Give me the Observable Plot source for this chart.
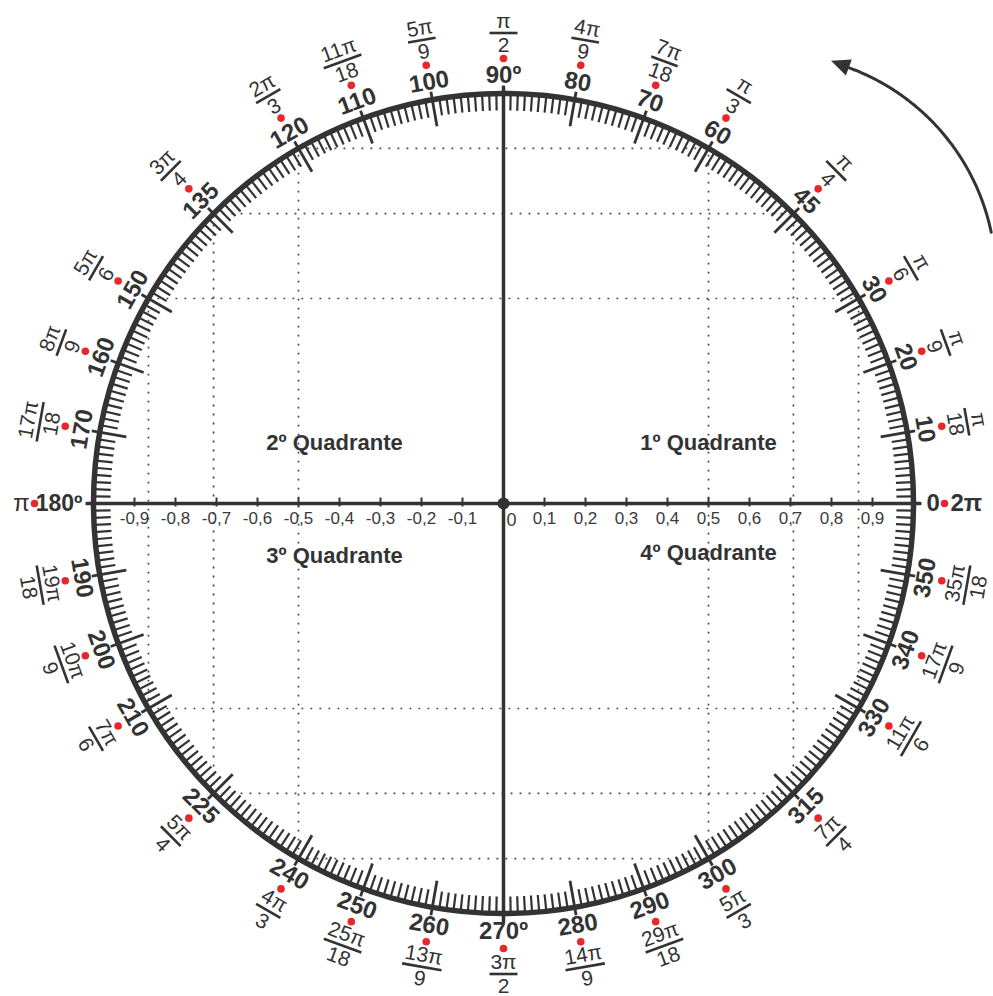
<!DOCTYPE html>
<html>
<head>
<meta charset="utf-8">
<script src="https://cdn.jsdelivr.net/npm/d3@7"></script>
<script src="https://cdn.jsdelivr.net/npm/@observablehq/plot@0.6"></script>
<style>
  html, body { margin: 0; padding: 0; background: #fff; }
  #chart svg { display: block; }
</style>
</head>
<body>
<div id="chart"></div>
<script>
// ---------- data ----------
const angles = [0,10,20,30,45,60,70,80,90,100,110,120,135,150,160,170,180,190,200,210,225,240,250,260,270,280,290,300,315,330,340,350];
const degreeLabels = ["0","10","20","30","45","60","70","80","90º","100","110","120","135","150","160","170","180º","190","200","210","225","240","250","260","270º","280","290","300","315","330","340","350"];
const radianNumerators = ["2π","π","π","π","π","π","7π","4π","π","5π","11π","2π","3π","5π","8π","17π","π","19π","10π","7π","5π","4π","25π","13π","3π","14π","29π","5π","7π","11π","17π","35π"];
const radianDenominators = ["","18","9","6","4","3","18","9","2","9","18","3","4","6","9","18","","18","9","6","4","3","18","9","2","9","18","3","4","6","9","18"];
const axisTickValues = [-0.9,-0.8,-0.7,-0.6,-0.5,-0.4,-0.3,-0.2,-0.1,0.1,0.2,0.3,0.4,0.5,0.6,0.7,0.8,0.9];
const axisTickLabels = ["-0,9","-0,8","-0,7","-0,6","-0,5","-0,4","-0,3","-0,2","-0,1","0,1","0,2","0,3","0,4","0,5","0,6","0,7","0,8","0,9"];
const originLabel = "0";
const gridValues = [0.5, 0.7071, 0.8660];
const quadrantLabels = ["1º Quadrante","2º Quadrante","3º Quadrante","4º Quadrante"];

// ---------- geometry helpers ----------
const K = 410;                     // pixels per unit
const W = 993, H = 996, C = 503;   // canvas and centre
const DARK = "#333333", RED = "#e8262b";
const FONT = "'Liberation Sans', Arial, Helvetica, sans-serif";
const toRad = a => a * Math.PI / 180;
const P = (a, px) => [px / K * Math.cos(toRad(a)), px / K * Math.sin(toRad(a))];
const side = a => (a < 180 ? 1 : -1);
const rot = a => (a < 180 ? 90 - a : 270 - a);

const labels = angles.map((a, i) => ({a, deg: degreeLabels[i], num: radianNumerators[i], den: radianDenominators[i]}));
const rotated = labels.filter(d => d.a !== 0 && d.a !== 180);
const fracs = labels.filter(d => d.den !== "");
const minorTicks = d3.range(0, 360).filter(a => !angles.includes(a));
const gridAll = gridValues.flatMap(v => [-v, v]);

const FR = 470.5, FOFF = 12;
const barHalf = d => Math.max(28, Math.max(d.num.length, d.den.length) * 12 + 4) / 2;

// arrow geometry (arc around its own centre)
const arrowC = [0.655, 0.550], arrowR = 0.546;
const arcPts = d3.range(11.8, 69.81, 0.5).map(t => [arrowC[0] + arrowR * Math.cos(toRad(t)), arrowC[1] + arrowR * Math.sin(toRad(t))]);
const endT = 69.8;
const baseC = [arrowC[0] + arrowR * Math.cos(toRad(endT)), arrowC[1] + arrowR * Math.sin(toRad(endT))];
const tang = [-Math.sin(toRad(endT)), Math.cos(toRad(endT))];
const norm = [Math.cos(toRad(endT)), Math.sin(toRad(endT))];
const tip = [baseC[0] + tang[0] * 19 / K, baseC[1] + tang[1] * 19 / K];
const c1 = [baseC[0] + norm[0] * 8.5 / K, baseC[1] + norm[1] * 8.5 / K];
const c2 = [baseC[0] - norm[0] * 8.5 / K, baseC[1] - norm[1] * 8.5 / K];
const headData = [{x1: tip[0], y1: tip[1], x2: tip[0], y2: tip[1]}, {x1: c1[0], y1: c1[1], x2: c2[0], y2: c2[1]}];

const chart = Plot.plot({
  width: W,
  height: H,
  margin: 0,
  x: {domain: [-C / K, (W - C) / K], axis: null},
  y: {domain: [-(H - C) / K, C / K], axis: null},
  style: {fontFamily: FONT, background: "#fff", color: DARK},
  marks: [
    // dotted grid (chords)
    Plot.link(gridAll, {x1: d => d, x2: d => d, y1: d => -Math.sqrt(1 - d * d), y2: d => Math.sqrt(1 - d * d),
      stroke: "#444", strokeWidth: 1.7, strokeDasharray: "1.8,7.2"}),
    Plot.link(gridAll, {y1: d => d, y2: d => d, x1: d => -Math.sqrt(1 - d * d), x2: d => Math.sqrt(1 - d * d),
      stroke: "#444", strokeWidth: 1.7, strokeDasharray: "1.8,7.2"}),
    // axes
    Plot.link([0], {x1: -417 / K, x2: 417 / K, y1: 0, y2: 0, stroke: DARK, strokeWidth: 3.5}),
    Plot.link([0], {x1: 0, x2: 0, y1: -419 / K, y2: 417 / K, stroke: DARK, strokeWidth: 3.5}),
    // axis ticks and labels
    Plot.link(axisTickValues, {x1: d => d, x2: d => d, y1: -3 / K, y2: 6 / K, stroke: DARK, strokeWidth: 2}),
    Plot.text(axisTickLabels, {x: (d, i) => axisTickValues[i], y: -15 / K, text: d => d,
      fontSize: 17, fill: "#3a3a3a", textAnchor: "middle", lineAnchor: "middle"}),
    Plot.text([originLabel], {x: 3 / K, y: -17 / K, text: d => d, fontSize: 18, fill: "#3a3a3a", textAnchor: "start", lineAnchor: "middle"}),
    // origin dot
    Plot.dot([[0, 0]], {r: 6, fill: DARK}),
    // scale ticks
    Plot.link(minorTicks, {x1: d => P(d, 410)[0], y1: d => P(d, 410)[1], x2: d => P(d, 393)[0], y2: d => P(d, 393)[1],
      stroke: DARK, strokeWidth: 2.2}),
    Plot.link(angles, {x1: d => P(d, 418)[0], y1: d => P(d, 418)[1], x2: d => P(d, 383)[0], y2: d => P(d, 383)[1],
      stroke: DARK, strokeWidth: 2.8}),
    // circle
    Plot.dot([[0, 0]], {r: 410, fill: "none", stroke: DARK, strokeWidth: 5.5}),
    // degree labels
    Plot.text(rotated, {x: d => P(d.a, 428)[0], y: d => P(d.a, 428)[1], text: "deg", rotate: d => rot(d.a),
      fontSize: 24, fontWeight: "bold", fill: DARK, textAnchor: "middle", lineAnchor: "middle"}),
    Plot.text(labels.filter(d => d.a === 0), {x: 423 / K, y: 0, text: "deg", fontSize: 24, fontWeight: "bold", fill: DARK, textAnchor: "start", lineAnchor: "middle"}),
    Plot.text(labels.filter(d => d.a === 180), {x: -421 / K, y: 0, text: "deg", fontSize: 23, fontWeight: "bold", fill: DARK, textAnchor: "end", lineAnchor: "middle"}),
    // red dots
    Plot.dot(labels, {x: d => P(d.a, d.a === 0 ? 441 : d.a === 180 ? 469 : 445)[0], y: d => P(d.a, d.a === 0 ? 441 : d.a === 180 ? 469 : 445)[1],
      r: 3.8, fill: RED}),
    // radian fractions
    Plot.text(fracs, {x: d => P(d.a, FR + side(d.a) * FOFF)[0], y: d => P(d.a, FR + side(d.a) * FOFF)[1], text: "num",
      rotate: d => rot(d.a), fontSize: 21, fill: DARK, textAnchor: "middle", lineAnchor: "middle"}),
    Plot.text(fracs, {x: d => P(d.a, FR - side(d.a) * FOFF)[0], y: d => P(d.a, FR - side(d.a) * FOFF)[1], text: "den",
      rotate: d => rot(d.a), fontSize: 21, fill: DARK, textAnchor: "middle", lineAnchor: "middle"}),
    Plot.link(fracs, {
      x1: d => P(d.a, FR)[0] - Math.sin(toRad(d.a)) * barHalf(d) / K,
      y1: d => P(d.a, FR)[1] + Math.cos(toRad(d.a)) * barHalf(d) / K,
      x2: d => P(d.a, FR)[0] + Math.sin(toRad(d.a)) * barHalf(d) / K,
      y2: d => P(d.a, FR)[1] - Math.cos(toRad(d.a)) * barHalf(d) / K,
      stroke: DARK, strokeWidth: 2.6}),
    // whole radian labels at 0 and 180
    Plot.text(labels.filter(d => d.a === 0), {x: 447 / K, y: 0, text: "num", fontSize: 24, fontWeight: "bold", fill: DARK, textAnchor: "start", lineAnchor: "middle"}),
    Plot.text(labels.filter(d => d.a === 180), {x: -482 / K, y: 0, text: "num", fontSize: 24, fill: DARK, textAnchor: "middle", lineAnchor: "middle"}),
    // quadrant names
    Plot.text(quadrantLabels, {
      x: (d, i) => [205, -169, -169, 205][i] / K,
      y: (d, i) => [61, 61, -52, -49][i] / K,
      text: d => d, fontSize: 22, fontWeight: "bold", fill: DARK, textAnchor: "middle", lineAnchor: "middle"}),
    // direction arrow
    Plot.line(arcPts, {stroke: DARK, strokeWidth: 3}),
    Plot.area(headData, {x1: "x1", y1: "y1", x2: "x2", y2: "y2", fill: DARK})
  ]
});
document.getElementById("chart").append(chart);
</script>
</body>
</html>
